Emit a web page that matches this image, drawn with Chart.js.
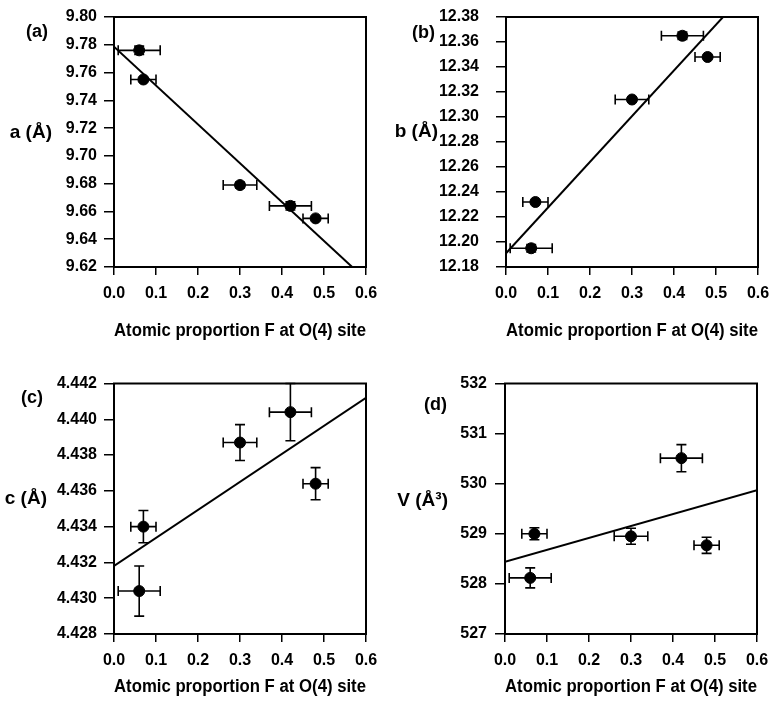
<!DOCTYPE html>
<html>
<head>
<meta charset="utf-8">
<script src="https://cdn.jsdelivr.net/npm/chart.js@4/dist/chart.umd.min.js"></script>
<style>
  body { margin: 0; background: #fff; }
  .panel { position: absolute; }
</style>
</head>
<body>
<div class="panel" style="left:0;top:0"><canvas id="chartA" width="385" height="352"></canvas></div>
<div class="panel" style="left:385px;top:0"><canvas id="chartB" width="386" height="352"></canvas></div>
<div class="panel" style="left:0;top:352px"><canvas id="chartC" width="385" height="352"></canvas></div>
<div class="panel" style="left:385px;top:352px"><canvas id="chartD" width="386" height="352"></canvas></div>
<script>
// x values shared by all panels: atomic proportion F at the O(4) site
const fracF = [0.06, 0.07, 0.30, 0.42, 0.48];
const fracFErr = [0.05, 0.03, 0.04, 0.05, 0.03];
const xTicks = [0, 0.1, 0.2, 0.3, 0.4, 0.5, 0.6];
const fitX = [0, 0.6];

// (a) a axis
const aVals = [9.776, 9.755, 9.679, 9.664, 9.655];
const aErr = [0.003, 0.001, 0.002, 0.003, 0.001];
const aFitY = [9.7786, 9.6108];
const aTicks = [9.62, 9.64, 9.66, 9.68, 9.70, 9.72, 9.74, 9.76, 9.78, 9.80];

// (b) b axis
const bVals = [12.195, 12.232, 12.314, 12.365, 12.348];
const bErr = [0.003, 0.001, 0.001, 0.003, 0.001];
const bFitY = [12.191, 12.4104];
const bTicks = [12.18, 12.20, 12.22, 12.24, 12.26, 12.28, 12.30, 12.32, 12.34, 12.36, 12.38];

// (c) c axis
const cVals = [4.4304, 4.4340, 4.4387, 4.4404, 4.4364];
const cErr = [0.0014, 0.0009, 0.0010, 0.0016, 0.0009];
const cFitY = [4.4318, 4.4412];
const cTicks = [4.428, 4.430, 4.432, 4.434, 4.436, 4.438, 4.440, 4.442];

// (d) cell volume
const dVals = [528.12, 529.00, 528.95, 530.51, 528.77];
const dErr = [0.20, 0.12, 0.16, 0.27, 0.16];
const dFitY = [528.44, 529.87];
const dTicks = [527, 528, 529, 530, 531, 532];

const FONT = '"Liberation Sans", Arial, sans-serif';

// draws the x and y error bars with caps
const errorBars = {
    id: 'errorBars',
    afterDatasetsDraw(chart, args, opts) {
        const ctx = chart.ctx;
        const x = chart.scales.x, y = chart.scales.y;
        const cap = 5;
        ctx.save();
        ctx.strokeStyle = '#000';
        ctx.lineWidth = 1.6;
        fracF.forEach((xv, i) => {
            const yv = opts.vals[i];
            const px = x.getPixelForValue(xv), py = y.getPixelForValue(yv);
            const x0 = x.getPixelForValue(xv - fracFErr[i]), x1 = x.getPixelForValue(xv + fracFErr[i]);
            const y0 = y.getPixelForValue(yv - opts.err[i]), y1 = y.getPixelForValue(yv + opts.err[i]);
            ctx.beginPath();
            ctx.moveTo(x0, py); ctx.lineTo(x1, py);
            ctx.moveTo(x0, py - cap); ctx.lineTo(x0, py + cap);
            ctx.moveTo(x1, py - cap); ctx.lineTo(x1, py + cap);
            ctx.moveTo(px, y0); ctx.lineTo(px, y1);
            ctx.moveTo(px - cap, y0); ctx.lineTo(px + cap, y0);
            ctx.moveTo(px - cap, y1); ctx.lineTo(px + cap, y1);
            ctx.stroke();
        });
        ctx.restore();
    }
};

// box around the plot, panel letter and horizontal y title
const frameAndLabels = {
    id: 'frameAndLabels',
    afterDraw(chart, args, opts) {
        const ctx = chart.ctx, a = chart.chartArea;
        ctx.save();
        ctx.strokeStyle = '#000';
        ctx.lineWidth = 2;
        ctx.strokeRect(a.left, a.top, a.right - a.left, a.bottom - a.top);
        ctx.fillStyle = '#000';
        ctx.font = 'bold 18px ' + FONT;
        ctx.textAlign = 'right';
        ctx.textBaseline = 'middle';
        ctx.fillText(opts.panel, opts.panelX, opts.panelY);
        ctx.font = 'bold 19px ' + FONT;
        ctx.fillText(opts.yTitle, opts.yTitleX, opts.yTitleY);
        ctx.restore();
    }
};

function makePanel(id, cfg) {
    return new Chart(document.getElementById(id), {
        type: 'scatter',
        data: {
            datasets: [{
                data: fracF.map((x, i) => ({ x: x, y: cfg.vals[i] })),
                pointRadius: 5.5,
                pointHoverRadius: 5.5,
                backgroundColor: '#000',
                borderColor: '#000'
            }, {
                data: fitX.map((x, i) => ({ x: x, y: cfg.fitY[i] })),
                showLine: true,
                pointRadius: 0,
                borderColor: '#000',
                borderWidth: 2
            }]
        },
        options: {
            responsive: false,
            animation: false,
            events: [],
            layout: { padding: { top: cfg.top, right: cfg.right, left: 0, bottom: 0 } },
            plugins: {
                legend: { display: false },
                tooltip: { enabled: false },
                errorBars: { vals: cfg.vals, err: cfg.err },
                frameAndLabels: cfg.labels
            },
            scales: {
                x: {
                    type: 'linear',
                    min: 0,
                    max: 0.6,
                    afterBuildTicks: s => { s.ticks = xTicks.map(v => ({ value: v })); },
                    afterFit: s => { s.height = cfg.xHeight; s.paddingLeft = 0; s.paddingRight = 0; },
                    grid: { drawOnChartArea: false, drawTicks: true, tickLength: 8, color: '#000', lineWidth: 1.5 },
                    border: { display: true, color: '#000', width: 2 },
                    ticks: {
                        color: '#000',
                        padding: 9,
                        maxRotation: 0,
                        autoSkip: false,
                        font: { family: FONT, size: 16, weight: 'bold' },
                        callback: v => Number(v).toFixed(1)
                    },
                    title: {
                        display: true,
                        text: 'Atomic proportion F at O(4) site',
                        color: '#000',
                        font: { family: FONT, size: 18, weight: 'bold' },
                        padding: { top: 0, bottom: cfg.titlePad }
                    }
                },
                y: {
                    type: 'linear',
                    min: cfg.ticks[0],
                    max: cfg.ticks[cfg.ticks.length - 1],
                    afterBuildTicks: s => { s.ticks = cfg.ticks.map(v => ({ value: v })); },
                    afterFit: s => { s.width = cfg.yWidth; s.paddingTop = 0; s.paddingBottom = 0; },
                    grid: { drawOnChartArea: false, drawTicks: true, tickLength: 10, color: '#000', lineWidth: 1.5 },
                    border: { display: true, color: '#000', width: 2 },
                    ticks: {
                        color: '#000',
                        padding: cfg.yPad,
                        autoSkip: false,
                        font: { family: FONT, size: 16, weight: 'bold' },
                        callback: v => Number(v).toFixed(cfg.decimals)
                    }
                }
            }
        },
        plugins: [errorBars, frameAndLabels]
    });
}

makePanel('chartA', {
    vals: aVals, err: aErr, fitY: aFitY, ticks: aTicks, decimals: 2,
    top: 17, right: 19, xHeight: 85, titlePad: 10, yWidth: 114, yPad: 7,
    labels: { panel: '(a)', panelX: 48, panelY: 32, yTitle: 'a (Å)', yTitleX: 52, yTitleY: 133 }
});
makePanel('chartB', {
    vals: bVals, err: bErr, fitY: bFitY, ticks: bTicks, decimals: 2,
    top: 17, right: 13, xHeight: 85, titlePad: 10, yWidth: 121, yPad: 17,
    labels: { panel: '(b)', panelX: 50, panelY: 33, yTitle: 'b (Å)', yTitleX: 53, yTitleY: 132 }
});
makePanel('chartC', {
    vals: cVals, err: cErr, fitY: cFitY, ticks: cTicks, decimals: 3,
    top: 31.5, right: 19, xHeight: 70, titlePad: 6, yWidth: 114, yPad: 7,
    labels: { panel: '(c)', panelX: 43, panelY: 46, yTitle: 'c (Å)', yTitleX: 47, yTitleY: 147 }
});
makePanel('chartD', {
    vals: dVals, err: dErr, fitY: dFitY, ticks: dTicks, decimals: 0,
    top: 31.5, right: 14, xHeight: 70, titlePad: 6, yWidth: 120, yPad: 8,
    labels: { panel: '(d)', panelX: 62, panelY: 53, yTitle: 'V (Å³)', yTitleX: 63, yTitleY: 149 }
});
</script>
</body>
</html>
